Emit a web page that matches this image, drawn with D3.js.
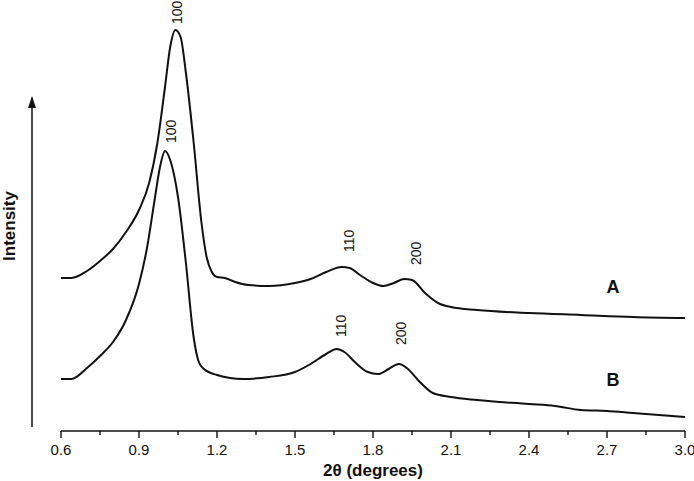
<!DOCTYPE html>
<html>
<head>
<meta charset="utf-8">
<script src="https://cdn.jsdelivr.net/npm/d3@7"></script>
<style>
  html, body { margin: 0; padding: 0; background: #fff; }
  svg { display: block; }
  text { font-family: "Liberation Sans", Arial, sans-serif; fill: #111; }
</style>
</head>
<body>
<div id="chart"></div>
<script>
// XRD patterns, intensity in arbitrary units
const thetaA = [0.60, 0.64, 0.70, 0.75, 0.80, 0.85, 0.90, 0.94, 0.97, 1.00, 1.02, 1.04, 1.06, 1.08,
  1.11, 1.14, 1.16, 1.18, 1.20, 1.23, 1.27, 1.32, 1.40, 1.50, 1.56, 1.62, 1.68, 1.71, 1.75, 1.80,
  1.84, 1.88, 1.92, 1.95, 2.00, 2.05, 2.10, 2.20, 2.40, 2.60, 2.80, 3.00];
const intensityA = [154, 154, 161, 171, 183, 200, 222, 250, 288, 345, 385, 402, 395, 360,
  290, 210, 175, 160, 155, 154, 150, 147, 146, 149, 153, 160, 165, 164, 157, 149,
  146, 149, 153, 152, 139, 129, 125, 122, 119, 117, 115, 114];

const thetaB = [0.60, 0.64, 0.70, 0.75, 0.80, 0.85, 0.90, 0.93, 0.96, 0.98, 1.00, 1.02, 1.05, 1.08,
  1.11, 1.13, 1.15, 1.20, 1.30, 1.40, 1.50, 1.56, 1.62, 1.66, 1.69, 1.73, 1.78, 1.82, 1.86, 1.90,
  1.93, 1.98, 2.03, 2.10, 2.20, 2.40, 2.50, 2.60, 2.70, 2.80, 2.85, 3.00];
const intensityB = [53, 53, 64, 76, 90, 112, 148, 183, 232, 264, 281, 272, 235, 170,
  95, 70, 63, 57, 53, 55, 60, 68, 78, 83, 80, 70, 60, 58, 63, 68,
  64, 50, 39, 35, 32, 28, 26, 22, 21, 19, 18, 15];

// peak (hkl) annotations: position of the foot of each rotated label
const peakLabels = ["100", "110", "200", "100", "110", "200"];
const peakTheta = [1.046, 1.708, 1.965, 1.023, 1.677, 1.908];
const peakLabelI = [408, 180, 167, 289, 95, 87];

const seriesNames = ["A", "B"];
const seriesNameTheta = [2.723, 2.723];
const seriesNameI = [145, 52];

const xTicks = [0.6, 0.9, 1.2, 1.5, 1.8, 2.1, 2.4, 2.7, 3.0];
const xMinorTicks = [0.75, 1.05, 1.35, 1.65, 1.95, 2.25, 2.55, 2.85];

const width = 694, height = 481;
const margin = { top: 22, right: 9, bottom: 49, left: 61 };

const svg = d3.select("#chart").append("svg")
  .attr("width", width)
  .attr("height", height);

const x = d3.scaleLinear().domain([0.6, 3.0]).range([margin.left, width - margin.right]);
const y = d3.scaleLinear().domain([0, 410]).range([height - margin.bottom, margin.top]);
const axisY = height - margin.bottom - 1;

// x axis
const xAxis = svg.append("g").attr("transform", `translate(0,${axisY})`);
xAxis.append("line")
  .attr("x1", x(0.6)).attr("x2", x(3.0))
  .attr("stroke", "#111").attr("stroke-width", 1.6);
xAxis.selectAll(".major").data(xTicks).join("line")
  .attr("class", "major")
  .attr("x1", d => x(d)).attr("x2", d => x(d))
  .attr("y1", 0).attr("y2", 7)
  .attr("stroke", "#111").attr("stroke-width", 1.4);
xAxis.selectAll(".minor").data(xMinorTicks).join("line")
  .attr("class", "minor")
  .attr("x1", d => x(d)).attr("x2", d => x(d))
  .attr("y1", 0).attr("y2", 4)
  .attr("stroke", "#111").attr("stroke-width", 1.4);
xAxis.selectAll(".tick-label").data(xTicks).join("text")
  .attr("class", "tick-label")
  .attr("x", d => x(d))
  .attr("y", 24)
  .attr("text-anchor", "middle")
  .attr("font-size", "15px")
  .text(d => d.toFixed(1));

svg.append("text")
  .attr("x", (x(0.6) + x(3.0)) / 2)
  .attr("y", height - 5)
  .attr("text-anchor", "middle")
  .attr("font-size", "17px")
  .attr("font-weight", "bold")
  .text("2θ (degrees)");

// intensity arrow
svg.append("defs").append("marker")
  .attr("id", "arrowhead")
  .attr("viewBox", "0 0 12 8")
  .attr("refX", 10).attr("refY", 4)
  .attr("markerWidth", 12).attr("markerHeight", 8)
  .attr("markerUnits", "userSpaceOnUse")
  .attr("orient", "auto")
  .append("path")
  .attr("d", "M0,0 L12,4 L0,8 Z")
  .attr("fill", "#111");

svg.append("line")
  .attr("x1", 32).attr("x2", 32)
  .attr("y1", y(5)).attr("y2", y(334))
  .attr("stroke", "#111").attr("stroke-width", 1.5)
  .attr("marker-end", "url(#arrowhead)");

svg.append("text")
  .attr("transform", `translate(15,${y(206)}) rotate(-90)`)
  .attr("text-anchor", "middle")
  .attr("font-size", "17px")
  .attr("font-weight", "bold")
  .text("Intensity");

// curves
const line = d3.line()
  .x(d => x(d[0]))
  .y(d => y(d[1]))
  .curve(d3.curveMonotoneX);

const curves = [
  d3.zip(thetaA, intensityA),
  d3.zip(thetaB, intensityB)
];

svg.selectAll(".xrd").data(curves).join("path")
  .attr("class", "xrd")
  .attr("d", line)
  .attr("fill", "none")
  .attr("stroke", "#111")
  .attr("stroke-width", 2)
  .attr("stroke-linejoin", "round");

// hkl labels
svg.selectAll(".hkl").data(peakLabels).join("text")
  .attr("class", "hkl")
  .attr("transform", (d, i) => `translate(${x(peakTheta[i])},${y(peakLabelI[i])}) rotate(-90)`)
  .attr("dy", "0.36em")
  .attr("font-size", "14px")
  .text(d => d);

// series letters
svg.selectAll(".series").data(seriesNames).join("text")
  .attr("class", "series")
  .attr("x", (d, i) => x(seriesNameTheta[i]))
  .attr("y", (d, i) => y(seriesNameI[i]))
  .attr("dy", "0.36em")
  .attr("text-anchor", "middle")
  .attr("font-size", "18px")
  .attr("font-weight", "bold")
  .text(d => d);
</script>
</body>
</html>
